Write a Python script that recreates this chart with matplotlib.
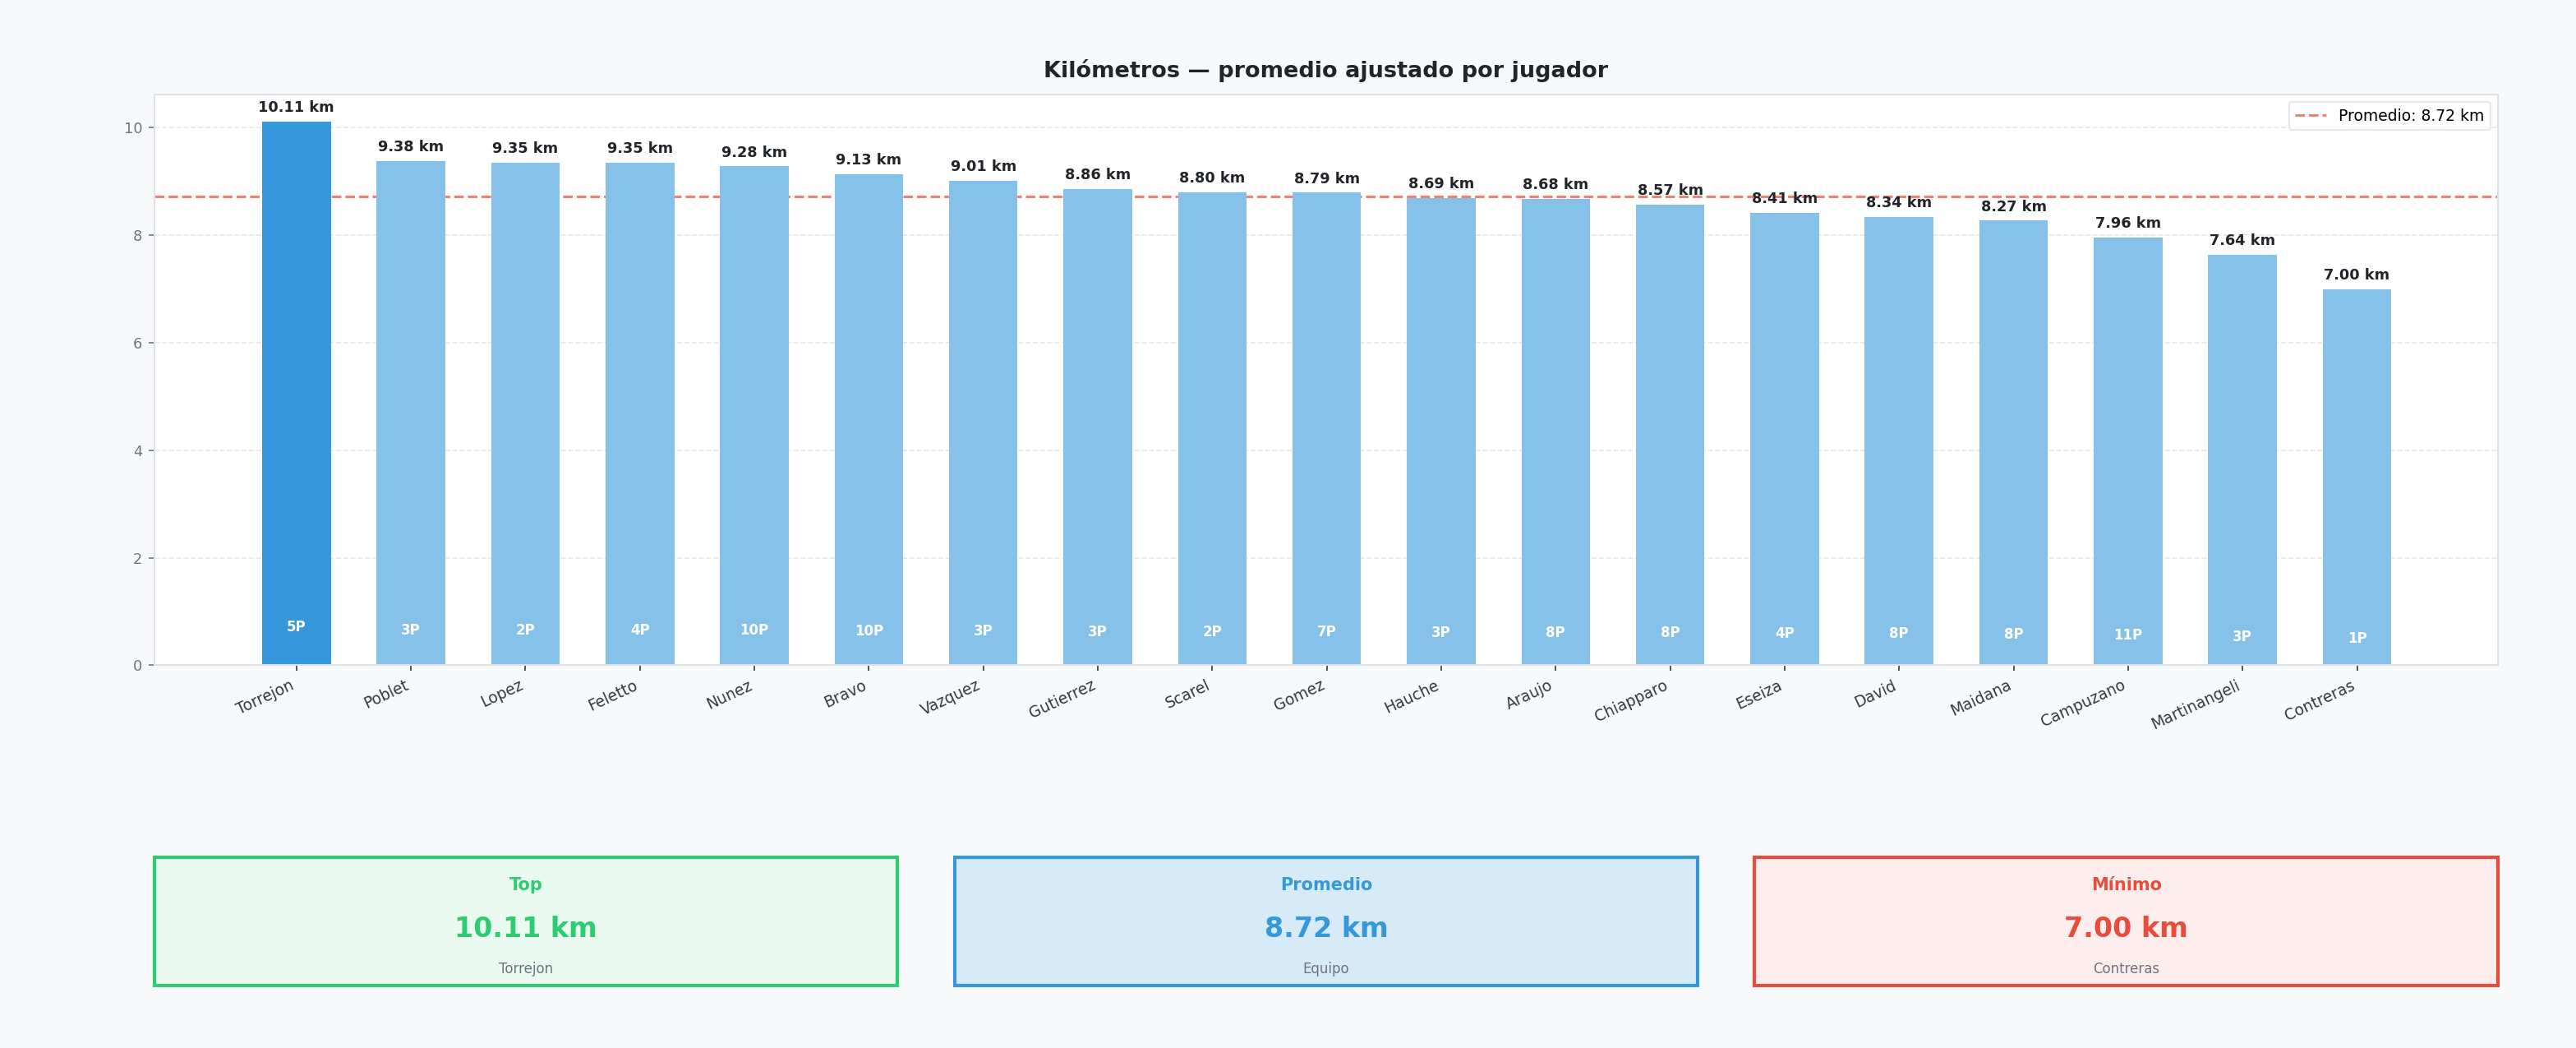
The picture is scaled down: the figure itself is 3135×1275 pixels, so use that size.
import matplotlib
matplotlib.use("Agg")
import matplotlib.pyplot as plt
from matplotlib.patches import Rectangle

jugadores = ['Torrejon', 'Poblet', 'Lopez', 'Feletto', 'Nunez', 'Bravo', 'Vazquez',
             'Gutierrez', 'Scarel', 'Gomez', 'Hauche', 'Araujo', 'Chiapparo', 'Eseiza',
             'David', 'Maidana', 'Campuzano', 'Martinangeli', 'Contreras']
km = [10.11, 9.38, 9.35, 9.35, 9.28, 9.13, 9.01, 8.86, 8.80, 8.79,
      8.69, 8.68, 8.57, 8.41, 8.34, 8.27, 7.96, 7.64, 7.00]
partidos = [5, 3, 2, 4, 10, 10, 3, 3, 2, 7, 3, 8, 8, 4, 8, 8, 11, 3, 1]

promedio = sum(km) / len(km)
i_max = km.index(max(km))
i_min = km.index(min(km))

BG = '#f8f9fa'
fig = plt.figure(figsize=(20.9, 8.5), dpi=150, facecolor=BG)
ax = fig.add_axes([0.05997, 0.3651, 0.9097, 0.5447])
ax.set_facecolor('white')

x = list(range(len(jugadores)))
colores = ['#3498db' if i == i_max else '#85c1e9' for i in x]
ax.axhline(promedio, color='#e74c3c', ls='--', lw=1.5, alpha=0.7, zorder=1,
           label=f'Promedio: {promedio:.2f} km')
ax.bar(x, km, width=0.6, color=colores, zorder=2)

for i, (v, p) in enumerate(zip(km, partidos)):
    ax.text(i, v + 0.12, f'{v:.2f} km', ha='center', va='bottom',
            fontsize=8.5, fontweight='bold', color='#212529', zorder=3)
    ax.text(i, v * 0.07, f'{p}P', ha='center', va='center',
            fontsize=8, fontweight='bold', color='white', zorder=3)

ax.set_xlim(-1.24, 19.23)
ax.set_ylim(0, max(km) * 1.05)
ax.set_xticks(x)
ax.set_xticklabels(jugadores, rotation=25, ha='right', fontsize=9, color='#343a40')
ax.tick_params(axis='y', labelsize=8.5, colors='#6c757d')
ax.tick_params(axis='x', colors='#343a40')
ax.grid(axis='y', ls='--', color='#dee2e6', lw=0.8, alpha=0.8)
ax.set_axisbelow(True)
for s in ax.spines.values():
    s.set_color('#dee2e6')
    s.set_linewidth(1.0)
ax.set_title('Kilómetros — promedio ajustado por jugador', fontsize=13,
             fontweight='bold', color='#212529', pad=10)
leg = ax.legend(loc='upper right', fontsize=9, frameon=True)
leg.get_frame().set_edgecolor('#dee2e6')

# tarjetas de resumen
tarjetas = [
    ('Top', f'{km[i_max]:.2f} km', jugadores[i_max], '#2ecc71', '#eafaf1'),
    ('Promedio', f'{promedio:.2f} km', 'Equipo', '#3498db', '#d6eaf8'),
    ('Mínimo', f'{km[i_min]:.2f} km', jugadores[i_min], '#e74c3c', '#fdedec'),
]
card_w = 0.2885
gap = (0.9097 - 3 * card_w) / 2
for k, (titulo, valor, sub, col, fondo) in enumerate(tarjetas):
    cax = fig.add_axes([0.05997 + k * (card_w + gap), 0.0596, card_w, 0.1224])
    cax.set_xlim(0, 1)
    cax.set_ylim(0, 1)
    cax.axis('off')
    cax.add_patch(Rectangle((0, 0), 1, 1, transform=cax.transAxes, facecolor=fondo,
                            edgecolor=col, lw=2, clip_on=False))
    cax.text(0.5, 0.78, titulo, ha='center', va='center', fontsize=10,
             fontweight='bold', color=col)
    cax.text(0.5, 0.44, valor, ha='center', va='center', fontsize=16,
             fontweight='bold', color=col)
    cax.text(0.5, 0.13, sub, ha='center', va='center', fontsize=8, color='#6c757d')

fig.savefig('out.png', dpi=150, facecolor=BG)
